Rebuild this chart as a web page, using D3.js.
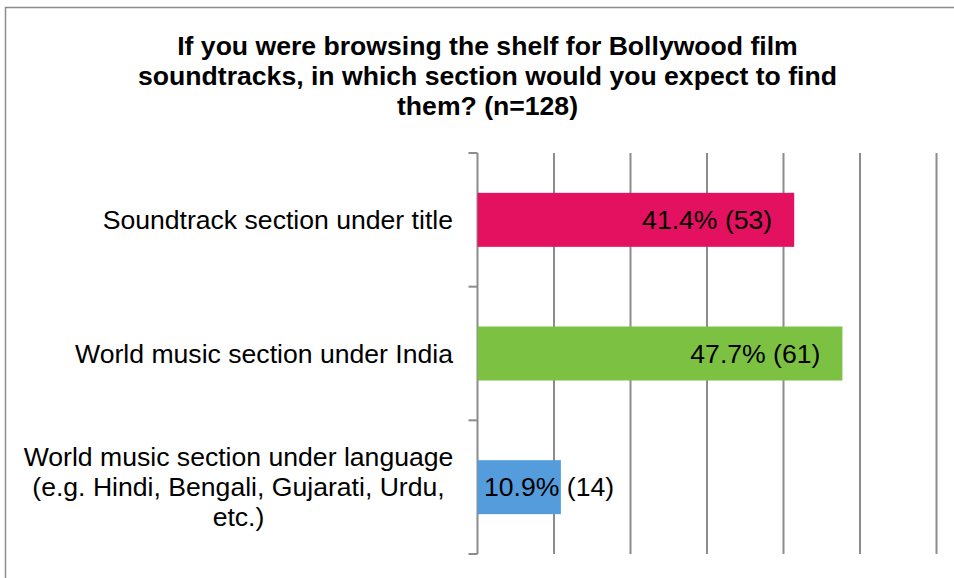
<!DOCTYPE html>
<html>
<head>
<meta charset="utf-8">
<script src="https://cdn.jsdelivr.net/npm/d3@7"></script>
<style>
  html, body { margin: 0; padding: 0; background: #fff; }
  svg { display: block; }
  text { font-family: "Liberation Sans", Arial, sans-serif; fill: #000; }
</style>
</head>
<body>
<svg id="chart" width="954" height="578"></svg>
<script>
// Survey answers, top to bottom
const categories = [
  ["Soundtrack section under title"],
  ["World music section under India"],
  ["World music section under language", "(e.g. Hindi, Bengali, Gujarati, Urdu,", "etc.)"]
];
const percents = [41.4, 47.7, 10.9];
const counts = [53, 61, 14];
const barColors = ["#e31160", "#7dc143", "#559cdc"];
const titleLines = [
  "If you were browsing the shelf for Bollywood film",
  "soundtracks, in which section would you expect to find",
  "them? (n=128)"
];
const xTicks = [0, 10, 20, 30, 40, 50, 60];

const svg = d3.select("#chart");
const gridColor = "#8c8c8c";
const fontSize = "26.6px";

// outer frame
svg.append("rect")
  .attr("x", 5.5).attr("y", 7.5)
  .attr("width", 960).attr("height", 600)
  .attr("fill", "none")
  .attr("stroke", "#8c8c8c")
  .attr("stroke-width", 1.5);

// title
svg.append("text")
  .attr("text-anchor", "middle")
  .style("font-size", fontSize)
  .style("font-weight", "bold")
  .selectAll("tspan")
  .data(titleLines)
  .join("tspan")
  .attr("x", 487.5)
  .attr("y", (d, i) => 55 + i * 30)
  .text(d => d);

const x = d3.scaleLinear().domain([0, 60]).range([477.5, 936.5]);
const y = d3.scaleBand()
  .domain(d3.range(categories.length))
  .range([153, 554])
  .paddingInner(0.596)
  .paddingOuter(0.298);

// vertical gridlines
svg.append("g")
  .selectAll("line")
  .data(xTicks.slice(1))
  .join("line")
  .attr("x1", d => x(d)).attr("x2", d => x(d))
  .attr("y1", 153).attr("y2", 554)
  .attr("stroke", gridColor)
  .attr("stroke-width", 2);

// category axis with outward ticks at band boundaries
const axisX = x(0);
const step = y.step();
const boundaries = d3.range(categories.length + 1).map(i => 153 + i * step);
const axis = svg.append("g");
axis.append("line")
  .attr("x1", axisX).attr("x2", axisX)
  .attr("y1", 153).attr("y2", 554)
  .attr("stroke", gridColor).attr("stroke-width", 2);
axis.selectAll("line.tick")
  .data(boundaries)
  .join("line")
  .attr("class", "tick")
  .attr("x1", axisX - 9).attr("x2", axisX)
  .attr("y1", d => d).attr("y2", d => d)
  .attr("stroke", gridColor).attr("stroke-width", 2);

// bars
svg.append("g")
  .selectAll("rect")
  .data(percents)
  .join("rect")
  .attr("x", x(0))
  .attr("y", (d, i) => y(i))
  .attr("width", d => x(d) - x(0))
  .attr("height", y.bandwidth())
  .attr("fill", (d, i) => barColors[i]);

// category labels (multi-line blocks centred on the band)
const labelG = svg.append("g").style("font-size", fontSize);
categories.forEach((lines, i) => {
  const cy = y(i) + y.bandwidth() / 2;
  const lh = 30;
  const t = labelG.append("text")
    .attr("text-anchor", lines.length > 1 ? "middle" : "end");
  const tx = lines.length > 1 ? 238.5 : 453;
  lines.forEach((ln, j) => {
    t.append("tspan")
      .attr("x", tx)
      .attr("y", cy + 9 + (j - (lines.length - 1) / 2) * lh)
      .text(ln);
  });
});

// value labels, placed inside the bar end
const valG = svg.append("g").style("font-size", fontSize);
percents.forEach((p, i) => {
  const cy = y(i) + y.bandwidth() / 2;
  const t = valG.append("text")
    .attr("y", cy + 9)
    .attr("text-anchor", "start")
    .text(`${p.toFixed(1)}% (${counts[i]})`);
  const w = t.node().getComputedTextLength();
  const tx = Math.max(x(0) + 6.5, x(p) - 22 - w);
  t.attr("x", tx);
});
</script>
</body>
</html>
